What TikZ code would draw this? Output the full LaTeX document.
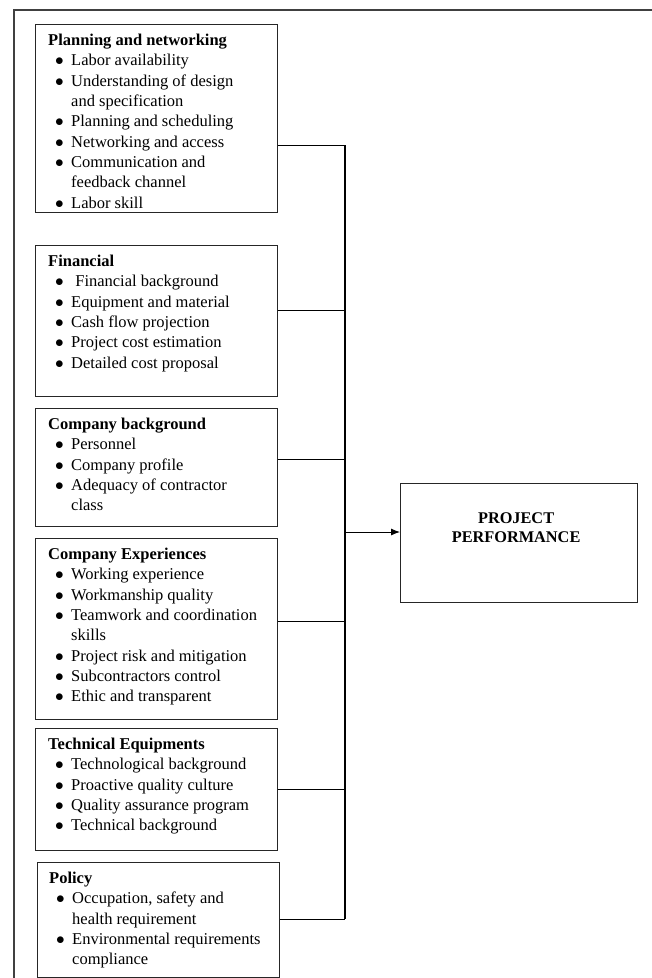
\documentclass[tikz,border=0pt]{standalone}
\usepackage{fontspec}
\setmainfont{Liberation Serif}
\usetikzlibrary{positioning,arrows.meta}

% bullet line and continuation line
\newcommand{\itm}{\hspace*{7pt}\makebox[16pt][l]{$\bullet$}}
\newcommand{\cnt}{\hspace*{23pt}}

\tikzset{
  catbox/.style={draw=black!85,line width=1.2pt,anchor=north west,minimum width=242pt,inner sep=0pt},
  cattext/.style={align=left,inner sep=0pt,font=\fontsize{16.5}{20.3}\selectfont},
  link/.style={line width=0.9pt},
}

\begin{document}
\begin{tikzpicture}[x=1pt,y=-1pt]
\useasboundingbox (0,0) rectangle (652,978);

% Page frame
\draw[line width=1.3pt,black!75] (14,978) -- (14,10) -- (652,10);

% Factor boxes
\node[catbox,minimum height=188pt] (plan) at (35,24) {};
\node[catbox,minimum height=151pt] (fin) at (35,245) {};
\node[catbox,minimum height=118pt] (comp) at (35,408) {};
\node[catbox,minimum height=181pt] (exper) at (35,538) {};
\node[catbox,minimum height=122pt] (tech) at (35,728) {};
\node[catbox,minimum height=115pt] (policy) at (37,862) {};

% Box contents
\node[cattext,below right=10pt and 13pt of plan.north west] (plantxt) {%
\textbf{Planning and networking}\\
\itm Labor availability\\
\itm Understanding of design\\
\cnt and specification\\
\itm Planning and scheduling\\
\itm Networking and access\\
\itm Communication and\\
\cnt feedback channel\\
\itm Labor skill};
\node[cattext,below right=10pt and 13pt of fin.north west] (fintxt) {%
\textbf{Financial}\\
\itm\ Financial background\\
\itm Equipment and material\\
\itm Cash flow projection\\
\itm Project cost estimation\\
\itm Detailed cost proposal};
\node[cattext,below right=10pt and 13pt of comp.north west] (comptxt) {%
\textbf{Company background}\\
\itm Personnel\\
\itm Company profile\\
\itm Adequacy of contractor\\
\cnt class};
\node[cattext,below right=10pt and 13pt of exper.north west] (expertxt) {%
\textbf{Company Experiences}\\
\itm Working experience\\
\itm Workmanship quality\\
\itm Teamwork and coordination\\
\cnt skills\\
\itm Project risk and mitigation\\
\itm Subcontractors control\\
\itm Ethic and transparent};
\node[cattext,below right=10pt and 13pt of tech.north west] (techtxt) {%
\textbf{Technical Equipments}\\
\itm Technological background\\
\itm Proactive quality culture\\
\itm Quality assurance program\\
\itm Technical background};
\node[cattext,below right=10pt and 12pt of policy.north west] (policytxt) {%
\textbf{Policy}\\
\itm Occupation, safety and\\
\cnt health requirement\\
\itm Environmental requirements\\
\cnt compliance};

% Outcome box
\node[catbox,minimum width=237pt,minimum height=119pt] (perf) at (400,483) {};
\node[align=center,inner sep=0pt,font=\fontsize{16.3}{19}\selectfont\bfseries]
  (perftxt) at ([xshift=-3pt,yshift=15pt]perf.center) {PROJECT\\PERFORMANCE};

% Joints on the collecting line
\coordinate (j1) at (345,145);
\coordinate (j2) at (345,310);
\coordinate (j3) at (345,459);
\coordinate (j4) at (345,621);
\coordinate (j5) at (345,789);
\coordinate (j6) at (345,919);
\coordinate (jout) at (345,532);

% Connectors
\draw[link] (plan.east |- j1) -- (j1);
\draw[link] (fin.east |- j2) -- (j2);
\draw[link] (comp.east |- j3) -- (j3);
\draw[link] (exper.east |- j4) -- (j4);
\draw[link] (tech.east |- j5) -- (j5);
\draw[link] (policy.east |- j6) -- (j6);
\draw[line width=1.1pt] (j1) -- (j6);
\draw[link,-{Latex[length=9pt,width=7pt]}] (jout) -- (jout -| perf.west);

\end{tikzpicture}
\end{document}
